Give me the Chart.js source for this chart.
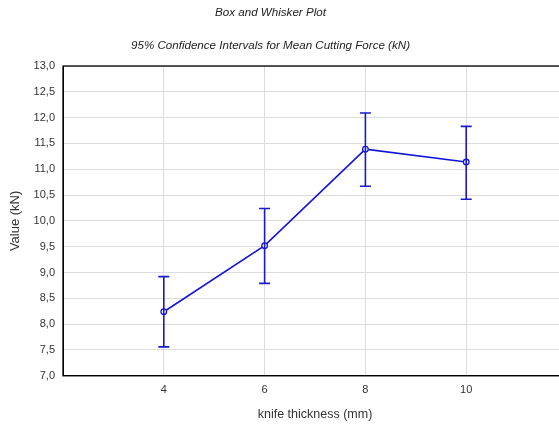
<!DOCTYPE html>
<html>
<head>
<meta charset="utf-8">
<script src="https://cdn.jsdelivr.net/npm/chart.js@4"></script>
<style>
    html, body { margin: 0; padding: 0; background: #fff; overflow: hidden; width: 559px; height: 424px; }
    #caja { position: relative; width: 580px; height: 424px; }
    .titulo { position: absolute; left: 0; width: 541px; text-align: center; font-family: "Liberation Sans", Arial, sans-serif; font-style: italic; font-size: 11.6px; color: #222; }
</style>
</head>
<body>
<div id="caja">
    <canvas id="grafica" width="580" height="424"></canvas>
    <div class="titulo" style="top:5px;">Box and Whisker Plot</div>
    <div class="titulo" style="top:38px;">95% Confidence Intervals for Mean Cutting Force (kN)</div>
</div>
<script>
// datos
const espesores = [4, 6, 8, 10];
const medias = [8.24, 9.52, 11.39, 11.14];
const limiteSuperior = [8.92, 10.24, 12.09, 11.83];
const limiteInferior = [7.56, 8.79, 10.67, 10.42];
const ticksY = [7, 7.5, 8, 8.5, 9, 9.5, 10, 10.5, 11, 11.5, 12, 12.5, 13];

const azul = '#1414d8';
const fuente = "'Liberation Sans', Arial, sans-serif";

const puntos = espesores.map((x, i) => ({ x: x, y: medias[i] }));

// bigotes del intervalo de confianza
const pluginBigotes = {
    id: 'bigotes',
    afterDatasetsDraw(chart) {
        const ctx = chart.ctx;
        const ex = chart.scales.x;
        const ey = chart.scales.y;
        ctx.save();
        ctx.strokeStyle = '#1a1ac8';
        ctx.lineWidth = 1.6;
        for (let i = 0; i < espesores.length; i++) {
            let px = ex.getPixelForValue(espesores[i]);
            let arriba = ey.getPixelForValue(limiteSuperior[i]);
            let abajo = ey.getPixelForValue(limiteInferior[i]);
            ctx.beginPath();
            ctx.moveTo(px, arriba);
            ctx.lineTo(px, abajo);
            ctx.moveTo(px - 5.5, arriba);
            ctx.lineTo(px + 5.5, arriba);
            ctx.moveTo(px - 5.5, abajo);
            ctx.lineTo(px + 5.5, abajo);
            ctx.stroke();
        }
        ctx.restore();
    }
};

// marco negro del area
const pluginMarco = {
    id: 'marco',
    afterDraw(chart) {
        const a = chart.chartArea;
        const ctx = chart.ctx;
        ctx.save();
        ctx.strokeStyle = '#000';
        ctx.lineWidth = 1.3;
        ctx.strokeRect(a.left, a.top, a.right - a.left, a.bottom - a.top);
        ctx.restore();
    }
};

new Chart(document.getElementById('grafica'), {
    type: 'scatter',
    data: {
        datasets: [{
            data: puntos,
            showLine: true,
            borderColor: azul,
            borderWidth: 1.6,
            pointRadius: 2.8,
            pointBorderWidth: 1.3,
            pointBackgroundColor: '#fff',
            pointBorderColor: azul
        }]
    },
    options: {
        responsive: false,
        animation: false,
        layout: { padding: { left: 8, right: 13, top: 66, bottom: 2 } },
        plugins: {
            legend: { display: false },
            tooltip: { enabled: false }
        },
        scales: {
            x: {
                type: 'linear',
                min: 2,
                max: 12,
                border: { color: '#000', width: 1 },
                grid: { color: '#dcdcdc', drawTicks: false },
                ticks: {
                    stepSize: 2,
                    padding: 8,
                    color: '#333',
                    font: { family: fuente, size: 11 },
                    callback: (v) => espesores.includes(v) ? String(v) : ''
                },
                title: {
                    display: true,
                    text: 'knife thickness (mm)',
                    color: '#333',
                    font: { family: fuente, size: 12.5 },
                    padding: { top: 2, bottom: 0 }
                }
            },
            y: {
                min: 7,
                max: 13,
                border: { color: '#000', width: 1 },
                grid: { color: '#dcdcdc', drawTicks: false },
                afterBuildTicks: (escala) => { escala.ticks = ticksY.map(v => ({ value: v })); },
                ticks: {
                    padding: 8,
                    color: '#333',
                    font: { family: fuente, size: 11 },
                    callback: (v) => v.toFixed(1).replace('.', ',')
                },
                title: {
                    display: true,
                    text: 'Value (kN)',
                    color: '#333',
                    font: { family: fuente, size: 13 },
                    padding: { top: 0, bottom: 2 }
                }
            }
        }
    },
    plugins: [pluginBigotes, pluginMarco]
});
</script>
</body>
</html>
